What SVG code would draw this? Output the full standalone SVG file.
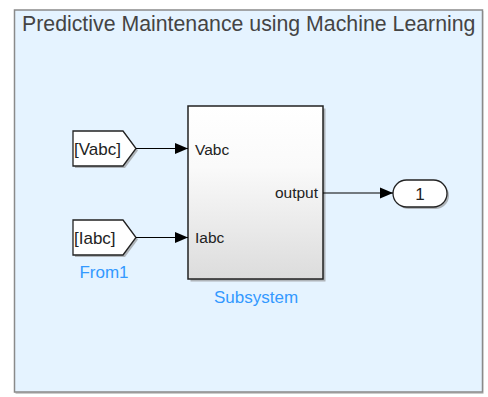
<svg xmlns="http://www.w3.org/2000/svg" width="488" height="397" viewBox="0 0 488 397">
  <defs>
    <linearGradient id="subsysFill" x1="0" y1="0" x2="0" y2="1">
      <stop offset="0" stop-color="#ffffff"/>
      <stop offset="0.35" stop-color="#fafafa"/>
      <stop offset="1" stop-color="#dcdcdc"/>
    </linearGradient>
    <marker id="arrow" viewBox="0 0 13 12" refX="13" refY="6" markerWidth="13" markerHeight="12" markerUnits="userSpaceOnUse" orient="auto">
      <path d="M0,0.5 L13,6 L0,11.5 Z" fill="#000"/>
    </marker>
  </defs>
  <style>
    .area { fill: #e5f3ff; stroke: #8a8a8a; stroke-width: 1.5; }
    .title { font-family: "Liberation Sans", Arial, sans-serif; font-size: 21.3px; fill: #444; }
    .block { fill: #ffffff; stroke: #222; stroke-width: 1.3; }
    .shadow { fill: #8a8a8a; opacity: 0.6; }
    .btext { font-family: "Liberation Sans", Arial, sans-serif; font-size: 17px; fill: #222; }
    .ptext { font-family: "Liberation Sans", Arial, sans-serif; font-size: 15.5px; fill: #222; }
    .name { font-family: "Liberation Sans", Arial, sans-serif; font-size: 17px; fill: #3399ff; text-anchor: middle; }
    .wire { fill: none; stroke: #000; stroke-width: 1.2; marker-end: url(#arrow); }
  </style>

  <!-- annotation area -->
  <g id="area">
    <rect x="15.5" y="11" width="468" height="383" fill="#9a9a9a" opacity="0.5"/>
    <rect class="area" x="14.5" y="10" width="468" height="382"/>
    <text class="title" x="22" y="31">Predictive Maintenance using Machine Learning</text>
  </g>

  <!-- From block: Vabc -->
  <g id="fromVabc">
    <path class="shadow" d="M75,133 H125 L138,150.5 L125,168 H75 Z"/>
    <path class="block" d="M73,131 H123 L136,148.5 L123,166 H73 Z"/>
    <text class="btext" x="74" y="154.5">[Vabc]</text>
  </g>

  <!-- From block: Iabc -->
  <g id="fromIabc">
    <path class="shadow" d="M75,222 H125 L138,239.5 L125,257 H75 Z"/>
    <path class="block" d="M73,220 H123 L136,237.5 L123,255 H73 Z"/>
    <text class="btext" x="74" y="243.5">[Iabc]</text>
    <text class="name" x="104" y="278">From1</text>
  </g>

  <!-- Subsystem -->
  <g id="subsystem">
    <rect class="shadow" x="190.5" y="108.5" width="135" height="173"/>
    <rect x="188" y="106" width="135" height="173" fill="url(#subsysFill)" stroke="#222" stroke-width="1.5"/>
    <text class="ptext" x="195" y="155">Vabc</text>
    <text class="ptext" x="195" y="243">Iabc</text>
    <text class="ptext" x="318" y="198" text-anchor="end">output</text>
    <text class="name" x="256" y="302.5">Subsystem</text>
  </g>

  <!-- Outport -->
  <g id="outport">
    <rect class="shadow" x="395" y="182" width="54" height="27" rx="13.5"/>
    <rect class="block" x="393" y="180" width="54" height="27" rx="13.5"/>
    <text class="btext" x="420" y="199.5" text-anchor="middle">1</text>
  </g>

  <!-- signal lines -->
  <g id="connectors">
    <path class="wire" d="M136,148.5 H188"/>
    <path class="wire" d="M136,237.5 H188"/>
    <path class="wire" d="M323,193 H393"/>
  </g>
</svg>
